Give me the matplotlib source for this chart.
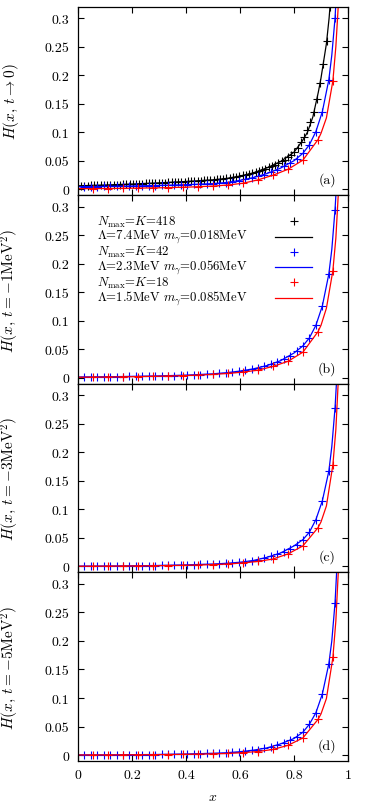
import numpy as np
import matplotlib
matplotlib.use('Agg')
import matplotlib.pyplot as plt

plt.rcParams['font.family'] = 'serif'
plt.rcParams['font.serif'] = ['cmr10']
plt.rcParams['mathtext.fontset'] = 'cm'
plt.rcParams['axes.unicode_minus'] = False
plt.rcParams['font.size'] = 10

#------------------------------------------------------------------------------
# marker positions (x = n/K)
x_418 = [0.012, 0.024, 0.036, 0.048, 0.060, 0.072, 0.084, 0.096, 0.108, 0.120,
         0.132, 0.144, 0.156, 0.167, 0.179, 0.191, 0.203, 0.215, 0.227, 0.239,
         0.251, 0.263, 0.275, 0.287, 0.299, 0.311, 0.323, 0.335, 0.347, 0.359,
         0.371, 0.383, 0.395, 0.407, 0.419, 0.431, 0.443, 0.455, 0.467, 0.478,
         0.490, 0.502, 0.514, 0.526, 0.538, 0.550, 0.562, 0.574, 0.586, 0.598,
         0.610, 0.622, 0.634, 0.646, 0.658, 0.670, 0.682, 0.694, 0.706, 0.718,
         0.730, 0.742, 0.754, 0.766, 0.778, 0.789, 0.801, 0.813, 0.825, 0.837,
         0.849, 0.861, 0.873, 0.885, 0.897, 0.909, 0.921, 0.933]
x_42 = [0.024, 0.048, 0.071, 0.095, 0.119, 0.143, 0.167, 0.190, 0.214, 0.238,
        0.262, 0.286, 0.310, 0.333, 0.357, 0.381, 0.405, 0.429, 0.452, 0.476,
        0.500, 0.524, 0.548, 0.571, 0.595, 0.619, 0.643, 0.667, 0.690, 0.714,
        0.738, 0.762, 0.786, 0.810, 0.833, 0.857, 0.881, 0.905, 0.929, 0.952]
x_18 = [0.056, 0.111, 0.167, 0.222, 0.278, 0.333, 0.389, 0.444, 0.500, 0.556,
        0.611, 0.667, 0.722, 0.778, 0.833, 0.889, 0.944]

# x grids of the fitted curves
xl_black = [0, 0.1, 0.2, 0.3, 0.4, 0.5, 0.55, 0.6, 0.65, 0.7, 0.75, 0.8, 0.83,
            0.85, 0.87, 0.89, 0.9, 0.91, 0.92, 0.93, 0.94, 0.95]
xl_blue = [0, 0.1, 0.2, 0.3, 0.4, 0.5, 0.55, 0.6, 0.65, 0.7, 0.75, 0.8, 0.833,
           0.857, 0.881, 0.905, 0.929, 0.94, 0.952, 0.96]
xl_red = [0, 0.1, 0.2, 0.3, 0.4, 0.5, 0.556, 0.611, 0.667, 0.722, 0.778, 0.833,
          0.889, 0.9, 0.92, 0.944, 0.955, 0.965]

# (a) t -> 0
black_pts_a = [0.0062, 0.0063, 0.0065, 0.0066, 0.0068, 0.0070, 0.0072, 0.0074, 0.0075, 0.0077,
               0.0079, 0.0081, 0.0083, 0.0085, 0.0088, 0.0090, 0.0092, 0.0094, 0.0097, 0.0099,
               0.0101, 0.0104, 0.0107, 0.0109, 0.0112, 0.0114, 0.0117, 0.0120, 0.0123, 0.0126,
               0.0128, 0.0131, 0.0134, 0.0137, 0.0141, 0.0144, 0.0147, 0.0150, 0.0154, 0.0158,
               0.0162, 0.0166, 0.0171, 0.0177, 0.0184, 0.0191, 0.0199, 0.0208, 0.0218, 0.0229,
               0.0241, 0.0254, 0.0268, 0.0283, 0.0299, 0.0318, 0.0338, 0.0360, 0.0382, 0.0405,
               0.0430, 0.0457, 0.0487, 0.0521, 0.0560, 0.0605, 0.0660, 0.0730, 0.0820, 0.0920,
               0.1040, 0.1180, 0.1350, 0.1580, 0.1860, 0.2200, 0.2600, 0.3200]
black_line_a = [0.006, 0.0074, 0.0091, 0.0112, 0.0136, 0.0165, 0.0189, 0.0231, 0.0288, 0.0375,
                0.0485, 0.0650, 0.0840, 0.1000, 0.1270, 0.1700, 0.1950, 0.2250, 0.2550, 0.3000,
                0.3600, 0.4400]
blue_pts_a = [0.0046, 0.0047, 0.0048, 0.0050, 0.0051, 0.0053, 0.0055, 0.0056, 0.0058, 0.0060,
              0.0062, 0.0065, 0.0067, 0.0070, 0.0073, 0.0077, 0.0081, 0.0085, 0.0089, 0.0093,
              0.0098, 0.0106, 0.0118, 0.0132, 0.0150, 0.0172, 0.0196, 0.0225, 0.0258, 0.0296,
              0.0345, 0.0400, 0.0460, 0.0535, 0.0630, 0.0780, 0.1010, 0.1360, 0.1920, 0.3000]
blue_line_a = [0.0045, 0.005, 0.0057, 0.0066, 0.008, 0.0098, 0.0118, 0.0155, 0.0205, 0.0275,
               0.037, 0.050, 0.063, 0.078, 0.101, 0.136, 0.192, 0.235, 0.30, 0.37]
red_pts_a = [0.0011, 0.0013, 0.0016, 0.0019, 0.0023, 0.0028, 0.0034, 0.0043, 0.0055, 0.0075,
             0.0105, 0.0165, 0.0245, 0.035, 0.051, 0.087, 0.19]
red_line_a = [0.001, 0.0013, 0.0018, 0.0025, 0.0036, 0.0055, 0.0075, 0.0105, 0.0165, 0.0245,
              0.035, 0.051, 0.087, 0.098, 0.125, 0.19, 0.25, 0.33]

# (b) t = -1 MeV^2
blue_pts_b = [0.0016, 0.0017, 0.0018, 0.0019, 0.0020, 0.0021, 0.0023, 0.0024, 0.0026, 0.0028,
              0.0030, 0.0033, 0.0035, 0.0038, 0.0041, 0.0044, 0.0048, 0.0053, 0.0058, 0.0064,
              0.0070, 0.0079, 0.0089, 0.0101, 0.0115, 0.0132, 0.0152, 0.0175, 0.0202, 0.0235,
              0.0275, 0.0325, 0.0385, 0.0465, 0.0560, 0.0700, 0.0920, 0.1260, 0.1820, 0.2950]
blue_line_b = [0.0015, 0.0019, 0.0025, 0.0034, 0.0047, 0.0070, 0.0090, 0.0118, 0.0158, 0.0215,
               0.030, 0.0435, 0.056, 0.070, 0.092, 0.126, 0.182, 0.225, 0.295, 0.36]
red_pts_b = [0.0012, 0.0014, 0.0017, 0.0021, 0.0026, 0.0032, 0.0038, 0.0048, 0.006, 0.0078,
             0.010, 0.0135, 0.020, 0.029, 0.045, 0.081, 0.188]
red_line_b = [0.001, 0.0014, 0.002, 0.0028, 0.004, 0.006, 0.0078, 0.010, 0.0135, 0.020,
              0.029, 0.045, 0.081, 0.092, 0.122, 0.188, 0.245, 0.33]

# (c) t = -3 MeV^2
blue_pts_c = [0.0005, 0.0006, 0.0006, 0.0007, 0.0008, 0.0009, 0.0010, 0.0011, 0.0012, 0.0013,
              0.0015, 0.0016, 0.0018, 0.0020, 0.0022, 0.0025, 0.0028, 0.0031, 0.0035, 0.0038,
              0.0042, 0.0048, 0.0055, 0.0063, 0.0071, 0.0083, 0.0098, 0.0120, 0.0148, 0.0180,
              0.0218, 0.0255, 0.0310, 0.0380, 0.0470, 0.0600, 0.0820, 0.1150, 0.1670, 0.2780]
blue_line_c = [0.0005, 0.0007, 0.0011, 0.0017, 0.0027, 0.0042, 0.0055, 0.0073, 0.0105, 0.016,
               0.0235, 0.036, 0.047, 0.060, 0.082, 0.115, 0.167, 0.21, 0.278, 0.345]
red_pts_c = [0.0004, 0.0005, 0.0007, 0.0009, 0.0011, 0.0015, 0.0019, 0.0025, 0.0032, 0.0043,
             0.0062, 0.0088, 0.0130, 0.022, 0.036, 0.068, 0.178]
red_line_c = [0.0003, 0.0005, 0.0008, 0.0013, 0.002, 0.0032, 0.0043, 0.0062, 0.0088, 0.0130,
              0.0220, 0.036, 0.068, 0.078, 0.106, 0.178, 0.24, 0.335]

# (d) t = -5 MeV^2
blue_pts_d = [0.0002, 0.0002, 0.0003, 0.0003, 0.0003, 0.0004, 0.0005, 0.0006, 0.0006, 0.0007,
              0.0008, 0.0009, 0.0010, 0.0012, 0.0013, 0.0015, 0.0018, 0.0021, 0.0024, 0.0027,
              0.0030, 0.0035, 0.0040, 0.0048, 0.0056, 0.0067, 0.0081, 0.0097, 0.0116, 0.0140,
              0.0175, 0.0216, 0.0258, 0.0320, 0.0400, 0.0540, 0.0740, 0.1070, 0.1600, 0.2670]
blue_line_d = [0.0002, 0.0003, 0.0006, 0.001, 0.0018, 0.003, 0.004, 0.0058, 0.0085, 0.0125,
               0.0195, 0.029, 0.040, 0.054, 0.074, 0.107, 0.160, 0.20, 0.267, 0.34]
red_pts_d = [0.0001, 0.0002, 0.0003, 0.0004, 0.0006, 0.0008, 0.0011, 0.0015, 0.002, 0.0028,
             0.0042, 0.0062, 0.0098, 0.017, 0.030, 0.0625, 0.171]
red_line_d = [0.0001, 0.0002, 0.0004, 0.0007, 0.0012, 0.002, 0.0028, 0.0042, 0.0062, 0.0098,
              0.017, 0.030, 0.0625, 0.072, 0.099, 0.171, 0.235, 0.33]

ylabels = [r'$H(x,\,t\rightarrow 0)$', r'$H(x,\,t=-1\mathrm{MeV}^2)$',
           r'$H(x,\,t=-3\mathrm{MeV}^2)$', r'$H(x,\,t=-5\mathrm{MeV}^2)$']
tags = ['(a)', '(b)', '(c)', '(d)']
legend_labels = ['$N_{\\rm max}$=$K$=418', '$\\Lambda$=7.4MeV $m_\\gamma$=0.018MeV',
                 '$N_{\\rm max}$=$K$=42', '$\\Lambda$=2.3MeV $m_\\gamma$=0.056MeV',
                 '$N_{\\rm max}$=$K$=18', '$\\Lambda$=1.5MeV $m_\\gamma$=0.085MeV']
yticks = [0, 0.05, 0.1, 0.15, 0.2, 0.25, 0.3]
ytick_labels = ['0', '0.05', '0.1', '0.15', '0.2', '0.25', '0.3']
xticks = [0, 0.2, 0.4, 0.6, 0.8, 1]
xtick_labels = ['0', '0.2', '0.4', '0.6', '0.8', '1']

#------------------------------------------------------------------------------

panels = [
    [(black_pts_a, black_line_a), (blue_pts_a, blue_line_a), (red_pts_a, red_line_a)],
    [None, (blue_pts_b, blue_line_b), (red_pts_b, red_line_b)],
    [None, (blue_pts_c, blue_line_c), (red_pts_c, red_line_c)],
    [None, (blue_pts_d, blue_line_d), (red_pts_d, red_line_d)],
]
colors = ['black', '#0000ff', '#ff0000']
xpts = [x_418, x_42, x_18]
xlines = [xl_black, xl_blue, xl_red]

fig, axes = plt.subplots(4, 1, sharex=True, figsize=(3.73, 8.04), dpi=100)
fig.subplots_adjust(left=0.209, right=0.933, top=0.9905, bottom=0.0522, hspace=0)

ms = 5.5
mew = 0.8
for i, ax in enumerate(axes):
    for j, series in enumerate(panels[i]):
        if series is None:
            continue
        pts, line = series
        ax.plot(xlines[j], line, '-', color=colors[j], lw=0.9)
        ax.plot(xpts[j], pts, '+', color=colors[j], ms=ms, mew=mew, linestyle='none')
    ax.set_xlim(0, 1)
    ax.set_ylim(-0.0105, 0.32)
    ax.set_yticks(yticks)
    ax.set_yticklabels(ytick_labels)
    ax.set_xticks(xticks)
    ax.tick_params(direction='in', top=True, right=True, length=4, width=0.8,
                   labelsize=10, pad=6)
    ax.set_ylabel(ylabels[i], fontsize=11)
    ax.yaxis.set_label_coords(-0.212, 0.5)
    ax.text(0.955, 0.085, tags[i], transform=ax.transAxes, ha='right', va='center',
            fontsize=10)
    for s in ax.spines.values():
        s.set_linewidth(0.9)

axes[-1].set_xticklabels(xtick_labels)
axes[-1].set_xlabel('$x$', fontsize=10, labelpad=7)

# key in panel (b): text left-aligned, sample on the right (gnuplot style)
ax = axes[1]
row_y = 0.862
row_step = 0.081
for k, lab in enumerate(legend_labels):
    y = row_y - k * row_step
    c = colors[k // 2]
    ax.text(0.070, y, lab, transform=ax.transAxes, ha='left', va='center', fontsize=9.2)
    if k % 2 == 0:
        ax.plot([0.80], [y], '+', color=c, ms=ms, mew=mew, transform=ax.transAxes,
                clip_on=False)
    else:
        ax.plot([0.730, 0.866], [y, y], '-', color=c, lw=0.9, transform=ax.transAxes,
                clip_on=False)

fig.savefig('out.png', dpi=100)
